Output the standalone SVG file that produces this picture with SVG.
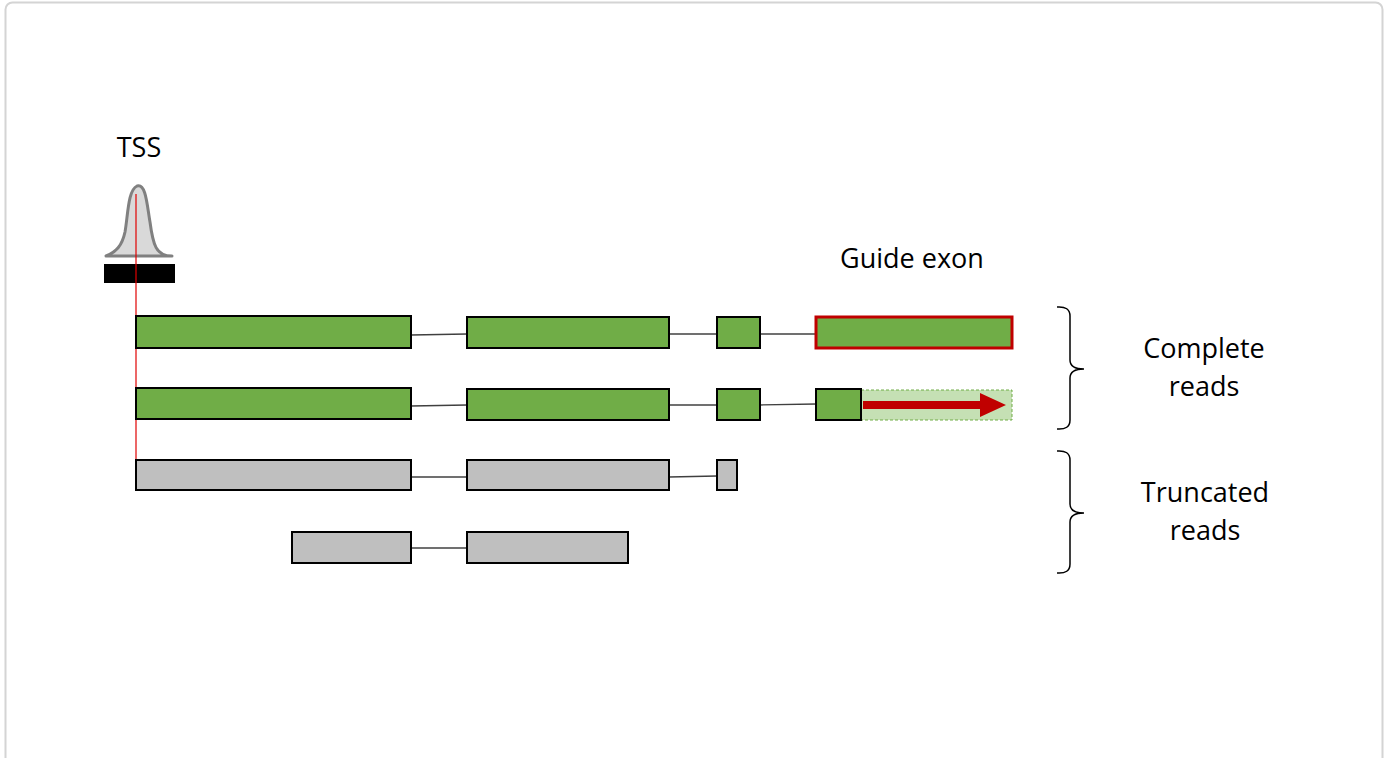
<svg xmlns="http://www.w3.org/2000/svg" width="1390" height="758" viewBox="0 0 1390 758">
<style>
.t{font-family:"Open Sans","Noto Sans",sans-serif;font-size:27px;fill:#000;text-anchor:middle}
.g{fill:#70ad47;stroke:#000;stroke-width:2}
.y{fill:#bfbfbf;stroke:#000;stroke-width:2}
.c{stroke:#404040;stroke-width:1.3;fill:none}
.b{fill:none;stroke:#000;stroke-width:1.5}
</style>
<rect x="5.5" y="2.5" width="1377" height="800" rx="7" fill="#fff" stroke="#d4d4d4" stroke-width="2"/>
<g id="tss">
<text class="t" x="139" y="157">TSS</text>
<path d="M106,256 C116,252 122,246 125,232 C128,215 128,190 137,186 C146,183 147,205 150,222 C153,245 156,256 172,256 Z" fill="#d9d9d9" stroke="#808080" stroke-width="3" stroke-linejoin="round"/>
<rect x="104" y="264" width="71" height="19" fill="#000"/>
<line x1="136" y1="194" x2="136" y2="460" stroke="#e00000" stroke-width="1.2"/>
</g>
<g id="connectors">
<line class="c" x1="411" y1="335" x2="467" y2="334"/>
<line class="c" x1="669" y1="334" x2="717" y2="334"/>
<line class="c" x1="760" y1="334" x2="816" y2="334"/>
<line class="c" x1="411" y1="406" x2="467" y2="405"/>
<line class="c" x1="669" y1="405" x2="717" y2="405"/>
<line class="c" x1="760" y1="405" x2="816" y2="404"/>
<line class="c" x1="411" y1="477" x2="467" y2="477"/>
<line class="c" x1="669" y1="477" x2="717" y2="476"/>
<line class="c" x1="411" y1="548" x2="467" y2="548"/>
</g>
<g id="read1">
<rect class="g" x="136" y="316" width="275" height="32"/>
<rect class="g" x="467" y="317" width="202" height="31"/>
<rect class="g" x="717" y="317" width="43" height="31"/>
<rect x="816" y="317" width="196" height="31" fill="#70ad47" stroke="#c00000" stroke-width="3"/>
</g>
<g id="read2">
<rect class="g" x="136" y="388" width="275" height="31"/>
<rect class="g" x="467" y="389" width="202" height="31"/>
<rect class="g" x="717" y="389" width="43" height="31"/>
<rect x="861" y="390" width="151" height="30" fill="#c5e0b4" stroke="#70ad47" stroke-width="1" stroke-dasharray="3,2"/>
<rect class="g" x="816" y="389" width="45" height="31"/>
<path d="M863,401 H980 V393 L1006,405 L980,417 V409 H863 Z" fill="#c00000"/>
</g>
<g id="read3">
<rect class="y" x="136" y="460" width="275" height="30"/>
<rect class="y" x="467" y="460" width="202" height="30"/>
<rect class="y" x="717" y="460" width="20" height="30"/>
</g>
<g id="read4">
<rect class="y" x="292" y="532" width="119" height="31"/>
<rect class="y" x="467" y="532" width="161" height="31"/>
</g>
<g id="guide">
<text class="t" x="912" y="268">Guide exon</text>
</g>
<g id="complete">
<path class="b" d="M1057,307 Q1070,306 1070,316 V360 Q1070,369 1084,369 Q1070,369 1070,378 V420 Q1070,430 1057,429"/>
<text class="t" x="1204" y="358">Complete</text>
<text class="t" x="1204" y="396">reads</text>
</g>
<g id="truncated">
<path class="b" d="M1057,451 Q1070,450 1070,460 V504 Q1070,513 1084,513 Q1070,513 1070,522 V564 Q1070,574 1057,573"/>
<text class="t" x="1205" y="502">Truncated</text>
<text class="t" x="1205" y="540">reads</text>
</g>
</svg>
